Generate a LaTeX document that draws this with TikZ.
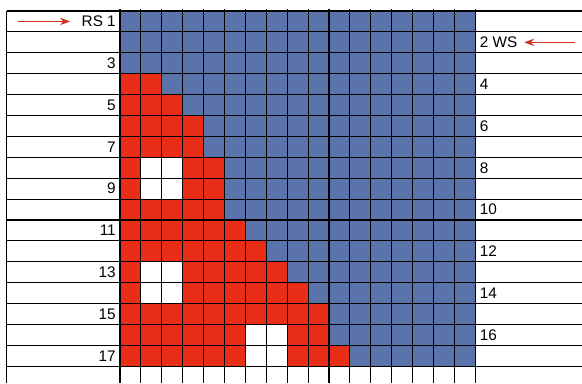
\documentclass[tikz,border=0pt]{standalone}
\usepackage{fontspec}
\setmainfont{Liberation Sans}
\usetikzlibrary{arrows.meta}
\definecolor{cellblue}{HTML}{5A73AB}
\definecolor{cellred}{HTML}{E82E17}
\definecolor{arrowred}{HTML}{CC3322}
\tikzstyle{gridline} = [line width=0.8pt, black]
\tikzstyle{redarrow} = [arrowred, line width=0.9pt, -{Stealth[length=7.5pt,width=5.5pt]}]
\tikzstyle{rowlabel} = [inner sep=0pt, font=\fontsize{11.5}{13}\selectfont]

\begin{document}
\begin{tikzpicture}[x=15.675pt,y=-15.675pt]
    \useasboundingbox (-5.742,-0.526) rectangle (22.105,17.8);
    \fill[cellblue] (0,0) rectangle (17,17);
    \foreach \r/\n in {4/2,5/3,6/4,7/4,8/5,9/5,10/5,11/6,12/7,13/8,14/9,15/10,16/10,17/11}{
        \fill[cellred] (0,\r-1) rectangle (\n,\r);
    }
    \foreach \c/\r in {2/8,3/8,2/9,3/9,2/13,3/13,2/14,3/14,7/16,8/16,7/17,8/17}{
        \fill[white] (\c-1,\r-1) rectangle (\c,\r);
    }
    \foreach \x in {0,...,17}{
        \draw[gridline] (\x,-0.1) -- (\x,17.8);
    }
    \foreach \y in {0,...,17}{
        \draw[gridline] (-5.41,\y) -- (22.105,\y);
    }
    \draw[gridline] (-5.41,0) -- (-5.41,17.8);
    \node[rowlabel, anchor=east] (rs1) at (-0.19,0.5) {RS 1};
    \foreach \r in {3,5,...,17}{
        \node[rowlabel, anchor=east] (left\r) at (-0.19,\r-0.5) {\r};
    }
    \node[rowlabel, anchor=west] (ws2) at (17.2,1.5) {2 WS};
    \foreach \r in {4,6,...,16}{
        \node[rowlabel, anchor=west] (right\r) at (17.2,\r-0.5) {\r};
    }
    \coordinate (rstail) at (-4.89,0.5);
    \coordinate (wstail) at (21.75,1.5);
    \draw[redarrow, shorten >=8.5pt] (rstail) -- (rs1.west);
    \draw[redarrow, shorten >=5pt] (wstail) -- (ws2.east);
\end{tikzpicture}
\end{document}
